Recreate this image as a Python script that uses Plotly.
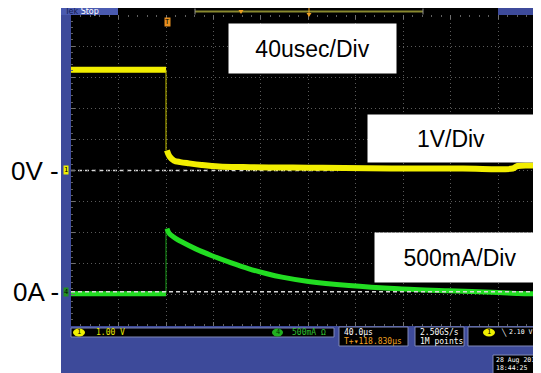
import plotly.graph_objects as go

# ---- data (time in microseconds, 40 us/div; volts at 1 V/div; amps at 500 mA/div) ----
t_before = [-80, -40, 0]
v_before = [3.24, 3.24, 3.24]
t_v_after = [0.8, 3.0, 6.7, 12.0, 19.4, 30.0, 44.6, 65.0, 86.7, 120.0, 150.0, 196.0, 250.0, 292.0, 296.0, 315.8]
v_after = [0.65, 0.45, 0.32, 0.27, 0.23, 0.18, 0.13, 0.11, 0.10, 0.09, 0.08, 0.065, 0.065, 0.065, 0.145, 0.145]

i_before = [-0.032, -0.032, -0.032]
t_i_after = [0.8, 3.0, 8.0, 13.5, 25.0, 38.7, 55.0, 69.9, 85.0, 97.7, 120.0, 154.0, 196.0, 238.0, 280.0, 297.0, 315.8]
i_after = [1.016, 0.93, 0.86, 0.80, 0.69, 0.58, 0.465, 0.37, 0.29, 0.235, 0.165, 0.10, 0.048, 0.016, -0.012, -0.028, -0.035]

volts_per_div = 1.0
amps_per_div = 0.5
ch4_offset_div = -3.9

x_range = [-80, 315.8]
y_range = [-5, 5]

# ---- geometry: page has an 8px body margin; coordinates below are window pixels ----
OFF = 8
WIN_W, WIN_H = 541, 373
PL, PT, PR, PB = 71, 15, 541, 326          # plot area in window pixels
W, H = WIN_W - OFF, WIN_H - OFF
PW, PH = PR - PL, PB - PT
def fx(px):
    return (px - PL) / PW
def fy(py):
    return (PB - py) / PH

BLUE = "#3d4a9a"
YEL = "#f2ee00"
GRN = "#22dd22"

v_b = [v / volts_per_div for v in v_before]
v_a = [v / volts_per_div for v in v_after]
i_b = [i / amps_per_div + ch4_offset_div for i in i_before]
i_a = [i / amps_per_div + ch4_offset_div for i in i_after]

fig = go.Figure()
# channel 1 (yellow)
fig.add_trace(go.Scatter(x=t_before, y=v_b, mode="lines", line=dict(color=YEL, width=6), hoverinfo="skip"))
fig.add_trace(go.Scatter(x=[t_before[-1], t_before[-1]], y=[v_b[-1], v_a[0]], mode="lines",
                         line=dict(color="#c8c400", width=1), hoverinfo="skip"))
fig.add_trace(go.Scatter(x=t_v_after, y=v_a, mode="lines", line=dict(color=YEL, width=6, shape="spline"), hoverinfo="skip"))
# channel 4 (green)
fig.add_trace(go.Scatter(x=t_before, y=i_b, mode="lines", line=dict(color=GRN, width=5), hoverinfo="skip"))
fig.add_trace(go.Scatter(x=[t_before[-1], t_before[-1]], y=[i_b[-1], i_a[0]], mode="lines",
                         line=dict(color="#1aa01a", width=1), hoverinfo="skip"))
fig.add_trace(go.Scatter(x=t_i_after, y=i_a, mode="lines", line=dict(color=GRN, width=5, shape="spline", smoothing=0.8),
                         hoverinfo="skip"))

shapes = []
def rect(x0, y0, x1, y1, fill, line_color=None, lw=0, layer="above"):
    shapes.append(dict(type="rect", xref="paper", yref="paper", x0=fx(x0), x1=fx(x1), y0=fy(y1), y1=fy(y0),
                       fillcolor=fill, line=dict(color=line_color or fill, width=lw), layer=layer))
def tri(xc, ytop, w, h, color):
    p = "M {:.5f},{:.5f} L {:.5f},{:.5f} L {:.5f},{:.5f} Z".format(
        fx(xc - w / 2), fy(ytop), fx(xc + w / 2), fy(ytop), fx(xc), fy(ytop + h))
    shapes.append(dict(type="path", xref="paper", yref="paper", path=p, fillcolor=color, line=dict(width=0)))

# blue frame
rect(61, 8, 71, 380, BLUE)
rect(61, 326, 545, 380, BLUE)
rect(61, 8, 545, 15, BLUE)
# top bar
rect(61, 8, 118, 15, "#4a5ab0")
rect(118, 8, 498, 15, "#000000")
shapes.append(dict(type="line", xref="paper", yref="paper", x0=fx(195), x1=fx(423), y0=fy(11.5), y1=fy(11.5),
                   line=dict(color="#8a8a30", width=2)))
for xp in (195, 423):
    shapes.append(dict(type="line", xref="paper", yref="paper", x0=fx(xp), x1=fx(xp), y0=fy(8.5), y1=fy(14.5),
                       line=dict(color="#909090", width=1)))
tri(241, 10, 5, 4, "#f0a020")
tri(309, 13, 5, 4, "#f0a020")
shapes.append(dict(type="line", xref="paper", yref="paper", x0=fx(309), x1=fx(309), y0=fy(8), y1=fy(13),
                   line=dict(color="#f0a020", width=1)))
# status boxes
rect(71, 328, 334, 337, "#000000", "#8088b8", 1)
rect(339, 327, 408, 346, "#000000", "#8088b8", 1)
rect(415, 327, 464, 346, "#000000", "#8088b8", 1)
rect(468, 327, 548, 346, "#000000", "#8088b8", 1)
rect(493, 355, 548, 380, "#000000", "#8088b8", 1)
# channel badges in status bar
for (x0, x1, c) in [(73, 85, "#f0f000"), (272, 283, "#20b020"), (483, 495, "#f0f000")]:
    shapes.append(dict(type="circle", xref="paper", yref="paper", x0=fx(x0), x1=fx(x1), y0=fy(336.5), y1=fy(328.5),
                       fillcolor=c, line=dict(width=0)))
# reference (ground) dashed lines
shapes.append(dict(type="line", xref="paper", yref="y", x0=0, x1=fx(338), y0=0, y1=0,
                   line=dict(color="#d8d8d8", width=1.5, dash="4px,3px"), layer="below"))
shapes.append(dict(type="line", xref="paper", yref="y", x0=0, x1=1, y0=ch4_offset_div, y1=ch4_offset_div,
                   line=dict(color="#d8d8d8", width=1.5, dash="4px,3px"), layer="above"))

anns = []
BOXFONT = dict(family="Liberation Sans, Arial, sans-serif", size=23, color="#000000")
def box(text, x0, y0, x1, y1):
    anns.append(dict(text=text, xref="paper", yref="paper", x=fx((x0 + x1) / 2), y=fy((y0 + y1) / 2),
                     xanchor="center", yanchor="middle", width=x1 - x0, height=y1 - y0,
                     bgcolor="#ffffff", borderpad=0, showarrow=False, font=BOXFONT))
box("40usec/Div", 229, 24, 396, 73)
box("1V/Div", 368, 115, 534, 162)
box("500mA/Div", 375, 233, 545, 282)

LABFONT = dict(family="Liberation Sans, Arial, sans-serif", size=26, color="#000000")
anns.append(dict(text="0V -", xref="paper", yref="y", x=fx(61), y=0, xanchor="right", yanchor="middle",
                 showarrow=False, font=LABFONT))
anns.append(dict(text="0A -", xref="paper", yref="y", x=fx(61), y=ch4_offset_div, xanchor="right", yanchor="middle",
                 showarrow=False, font=LABFONT))

SMALL = "DejaVu Sans Mono, monospace"
def txt(text, x, y, color, size=8, anchor="left", bg=None, family=SMALL):
    d = dict(text=text, xref="paper", yref="paper", x=fx(x), y=fy(y), xanchor=anchor, yanchor="middle",
             showarrow=False, font=dict(family=family, size=size, color=color))
    if bg:
        d.update(bgcolor=bg, borderpad=0)
    anns.append(d)

txt("<span style='color:#141c50'>Tek</span> Stop", 62, 11.5, "#ffffff", 8, family="DejaVu Sans, sans-serif")
txt("T", 167, 22.5, "#000000", 7, "center", "#e89020")
txt("1", 66, 170, "#000000", 7, "center", "#f0f000")
txt("4", 66, 292, "#000000", 7, "center", "#209020")
txt("1", 79, 332.5, "#000000", 7, "center")
txt("1.00 V", 94, 332.5, "#e8e800")
txt("4", 277.5, 332.5, "#003000", 7, "center")
txt("500mA Ω", 290, 332.5, "#30c030")
txt("40.0µs", 342, 332, "#ffffff")
txt("T+▾118.830µs", 342, 341, "#f0a020")
txt("2.50GS/s", 418, 332, "#ffffff")
txt("1M points", 418, 341, "#ffffff")
txt("1", 489, 332.5, "#000000", 7, "center")
txt("╲", 499, 332.5, "#ffffff", 7)
txt("2.10 V", 507, 332.5, "#ffffff", 6.5)
txt("28 Aug 201", 494, 359.5, "#ffffff", 6.5)
txt("18:44:25", 494, 367.5, "#ffffff", 6.5)

axis_common = dict(showticklabels=False, zeroline=False, showgrid=True, gridcolor="#5a5a5a", gridwidth=1,
                   griddash="1px,3px", ticks="inside", ticklen=4, tickcolor="#707070", mirror="ticks",
                   showline=False, fixedrange=True)
fig.update_layout(
    width=W, height=H, margin=dict(l=PL - OFF, r=0, t=PT - OFF, b=H - (PB - OFF), pad=0),
    paper_bgcolor="#ffffff", plot_bgcolor="#000000", showlegend=False,
    xaxis=dict(range=x_range, tick0=-80, dtick=40,
               minor=dict(dtick=8, ticklen=2, tickcolor="#606060", ticks="inside", showgrid=False), **axis_common),
    yaxis=dict(range=y_range, tick0=0, dtick=1,
               minor=dict(dtick=0.2, ticklen=2, tickcolor="#606060", ticks="inside", showgrid=False), **axis_common),
    shapes=shapes, annotations=anns,
)
fig.write_html("out.html")
